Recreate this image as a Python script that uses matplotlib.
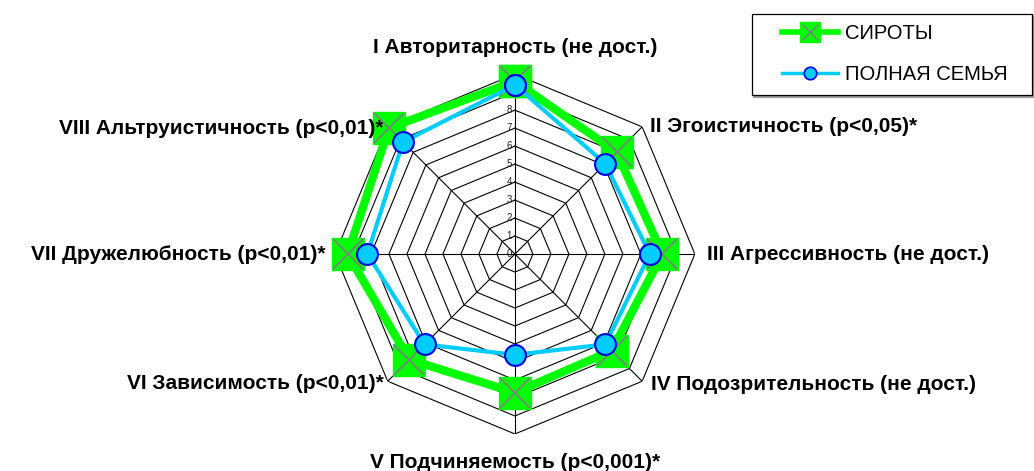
import numpy as np
import matplotlib
matplotlib.use('Agg')
import matplotlib.pyplot as plt
from matplotlib.lines import Line2D
from matplotlib.patches import Rectangle
from matplotlib.legend_handler import HandlerTuple
from matplotlib.transforms import ScaledTranslation

plt.rcParams['font.family'] = ['Liberation Sans', 'DejaVu Sans']

# Data
categories = ['I Авторитарность (не дост.)',
              'II Эгоистичность (p<0,05)*',
              'III Агрессивность (не дост.)',
              'IV Подозрительность (не дост.)',
              'V Подчиняемость (p<0,001)*',
              'VI Зависимость (p<0,01)*',
              'VII Дружелюбность (p<0,01)*',
              'VIII Альтруистичность (p<0,01)*']
orphans = [9.6, 8.0, 8.2, 7.6, 7.7, 8.3, 9.3, 9.9]
family = [9.4, 7.1, 7.5, 7.1, 5.6, 7.1, 8.2, 8.8]
series_names = ['СИРОТЫ', 'ПОЛНАЯ СЕМЬЯ']
r_ticks = list(range(0, 11))

n = len(categories)
theta = np.arange(n) * 2 * np.pi / n
theta_closed = np.append(theta, theta[0])

W, H = 1034, 471
fig = plt.figure(figsize=(W / 100, H / 100), dpi=100)
ax = fig.add_axes([0.324, 0.0786, 0.348, 0.764], projection='polar')
ax.set_theta_offset(np.pi / 2)
ax.set_theta_direction(-1)
ax.set_ylim(0, 10)
ax.grid(False)
ax.spines['polar'].set_visible(False)
ax.set_xticks([])
ax.set_yticks([])

# Polygon grid
for r in r_ticks[1:]:
    ax.plot(theta_closed, [r] * (n + 1), color='black', lw=0.8, zorder=1)
for t in theta:
    ax.plot([t, t], [0, 10], color='black', lw=0.8, zorder=1)

# radial tick labels
off = ScaledTranslation(-2 / 72, 0, fig.dpi_scale_trans)
for r in r_ticks:
    ax.text(0, r, str(r), fontsize=7, color='#222222', ha='right', va='center',
            transform=ax.transData + off, zorder=2)

# Series
o_closed = orphans + orphans[:1]
f_closed = family + family[:1]
ax.plot(theta_closed, o_closed, color='#00FF00', lw=6, zorder=3, clip_on=False,
        marker='s', ms=23, mfc='#00FF00', mec='#00FF00')
ax.plot(theta, orphans, ls='none', marker='x', ms=22, mec='#7F7F7F', mew=1.2,
        zorder=4, clip_on=False)
ax.plot(theta_closed, f_closed, color='#00CCFF', lw=3, zorder=5, clip_on=False,
        marker='o', ms=15, mfc='#00CCFF', mec='#0000DD', mew=1.5)

# Category labels (radius, alignment, pixel shift x, pixel shift down)
label_pos = [(11.5, 'center', 0, 0), (10.2, 'left', 5, 2), (10.7, 'left', 0, 0),
             (10.2, 'left', 6, 1), (11.55, 'center', 0, 1), (10.2, 'right', -1, 0),
             (10.6, 'right', 1, 0), (10.3, 'right', 0, 5)]
for t, name, (r, ha, dx, dy) in zip(theta, categories, label_pos):
    shift = ScaledTranslation(dx / 100, -dy / 100, fig.dpi_scale_trans)
    ax.text(t, r, name, fontsize=15, fontweight='bold', ha=ha, va='center',
            clip_on=False, transform=ax.transData + shift)

# Legend box
fig.patches.append(Rectangle((754 / W, 1 - 97 / H), 280 / W, 81 / H,
                             transform=fig.transFigure, facecolor='none',
                             edgecolor='#999999', lw=1.5, zorder=0))
fig.patches.append(Rectangle((752 / W, 1 - 95 / H), 280 / W, 81 / H,
                             transform=fig.transFigure, facecolor='white',
                             edgecolor='black', lw=0.9, zorder=1))

h1 = (Line2D([], [], color='#00FF00', lw=4, marker='s', ms=14,
             mfc='#00FF00', mec='#00FF00'),
      Line2D([], [], ls='none', marker='x', ms=12, mec='#7F7F7F', mew=1))
h2 = Line2D([], [], color='#00CCFF', lw=2.5, marker='o', ms=9,
            mfc='#00CCFF', mec='#0000DD', mew=1.2)
leg = fig.legend([h1, h2], series_names, loc='upper left',
                 bbox_to_anchor=(782 / W, 1 - 24 / H),
                 bbox_transform=fig.transFigure,
                 handler_map={tuple: HandlerTuple(ndivide=1)},
                 fontsize=14.5, frameon=False,
                 handlelength=2.8, handletextpad=0.35, labelspacing=1.1,
                 borderpad=0, borderaxespad=0)

fig.savefig('out.png', dpi=100)
